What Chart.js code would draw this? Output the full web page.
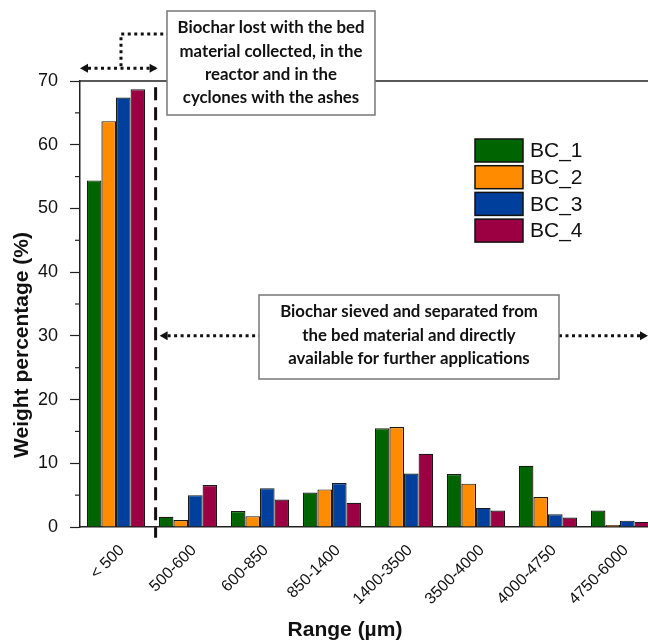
<!DOCTYPE html>
<html>
<head>
<meta charset="utf-8">
<script src="https://cdn.jsdelivr.net/npm/chart.js@4.4.1/dist/chart.umd.min.js"></script>
<style>
html, body { margin: 0; padding: 0; background: #fff; overflow: hidden; width: 648px; height: 643px; }
#wrap { position: absolute; left: 0; top: 0; width: 660px; height: 643px; }
</style>
</head>
<body>
<div id="wrap"><canvas id="chart" width="660" height="643"></canvas></div>
<script>
// data
const ranges = ['< 500', '500-600', '600-850', '850-1400', '1400-3500', '3500-4000', '4000-4750', '4750-6000'];
const bc1 = [54.4, 1.6, 2.5, 5.4, 15.5, 8.3, 9.6, 2.6];
const bc2 = [63.7, 1.1, 1.7, 5.9, 15.7, 6.8, 4.7, 0.3];
const bc3 = [67.4, 5.0, 6.1, 6.9, 8.4, 3.0, 2.0, 1.0];
const bc4 = [68.7, 6.6, 4.3, 3.8, 11.5, 2.6, 1.5, 0.8];
const seriesNames = ['BC_1', 'BC_2', 'BC_3', 'BC_4'];
const seriesColors = ['#006400', '#ff8c00', '#00409c', '#9c0042'];
const yTicks = [0, 10, 20, 30, 40, 50, 60, 70];

const noteTop = ['Biochar lost with the bed', 'material collected, in the', 'reactor and in the', 'cyclones with the ashes'];
const noteMid = ['Biochar sieved and separated from', 'the bed material and directly', 'available for further applications'];

const SANS = 'Arial, "Liberation Sans", sans-serif';
const NOTE_FONT = 'bold 16.8px Lato, "Open Sans", sans-serif';

function arrowHead(ctx, x, y, dir) {
    ctx.beginPath();
    ctx.moveTo(x, y);
    ctx.lineTo(x - dir * 8, y - 4.5);
    ctx.lineTo(x - dir * 8, y + 4.5);
    ctx.closePath();
    ctx.fill();
}

function dotted(ctx, pts) {
    ctx.save();
    ctx.setLineDash([3, 3.5]);
    ctx.lineWidth = 3;
    ctx.strokeStyle = '#111';
    ctx.beginPath();
    ctx.moveTo(pts[0][0], pts[0][1]);
    for (let i = 1; i < pts.length; i++) ctx.lineTo(pts[i][0], pts[i][1]);
    ctx.stroke();
    ctx.restore();
}

function noteBox(ctx, lines, x, y, w, h, first, gap) {
    ctx.save();
    ctx.fillStyle = '#fff';
    ctx.fillRect(x, y, w, h);
    ctx.strokeStyle = '#777';
    ctx.lineWidth = 1.5;
    ctx.strokeRect(x, y, w, h);
    ctx.fillStyle = '#111';
    ctx.font = NOTE_FONT;
    ctx.textAlign = 'center';
    ctx.textBaseline = 'middle';
    lines.forEach((t, i) => ctx.fillText(t, x + w / 2, y + first + i * gap));
    ctx.restore();
}

// frame, minor ticks, titles, legend and the notes
const extras = {
    id: 'extras',
    afterDraw(chart) {
        const ctx = chart.ctx;
        const area = chart.chartArea;
        const xs = chart.scales.x;
        const ys = chart.scales.y;

        ctx.save();
        // top frame line
        ctx.strokeStyle = '#222';
        ctx.lineWidth = 1.5;
        ctx.beginPath();
        ctx.moveTo(area.left, area.top);
        ctx.lineTo(area.right, area.top);
        ctx.stroke();

        // minor ticks
        ctx.lineWidth = 1.2;
        for (let v = 5; v < 70; v += 10) {
            const py = ys.getPixelForValue(v);
            ctx.beginPath();
            ctx.moveTo(area.left - 5, py);
            ctx.lineTo(area.left, py);
            ctx.stroke();
        }

        // axis titles
        ctx.fillStyle = '#111';
        ctx.font = 'bold 21px ' + SANS;
        ctx.textAlign = 'center';
        ctx.textBaseline = 'middle';
        ctx.fillText('Range (\u00b5m)', 345, 630);
        ctx.save();
        ctx.translate(22, 345);
        ctx.rotate(-Math.PI / 2);
        ctx.fillText('Weight percentage (%)', 0, 0);
        ctx.restore();

        // legend
        ctx.font = '21px ' + SANS;
        ctx.textAlign = 'left';
        seriesNames.forEach((name, i) => {
            const ly = 139 + i * 26.7;
            ctx.fillStyle = seriesColors[i];
            ctx.fillRect(475, ly, 48, 23);
            ctx.strokeStyle = '#111';
            ctx.lineWidth = 1.5;
            ctx.strokeRect(475, ly, 48, 23);
            ctx.fillStyle = '#111';
            ctx.fillText(name, 530, ly + 12.5);
        });

        // dashed divider between the first two ranges
        const dx = xs.getPixelForValue(0.55);
        ctx.save();
        ctx.setLineDash([13, 7]);
        ctx.lineWidth = 3;
        ctx.strokeStyle = '#111';
        ctx.beginPath();
        ctx.moveTo(dx, ys.getPixelForValue(69));
        ctx.lineTo(dx, ys.getPixelForValue(-1.7));
        ctx.stroke();
        ctx.restore();

        // top note with its double arrow
        ctx.fillStyle = '#111';
        const ay = ys.getPixelForValue(72);
        dotted(ctx, [[area.left + 8, ay], [dx, ay]]);
        arrowHead(ctx, area.left, ay, -1);
        arrowHead(ctx, dx + 2, ay, 1);
        dotted(ctx, [[121, ay - 2], [121, 34], [167, 34]]);
        noteBox(ctx, noteTop, 167, 11, 208, 104, 17, 23.3);

        // middle note with its arrows
        const my = ys.getPixelForValue(30);
        dotted(ctx, [[dx + 12, my], [259, my]]);
        arrowHead(ctx, dx + 4, my, -1);
        dotted(ctx, [[559, my], [640, my]]);
        ctx.fillStyle = '#111';
        arrowHead(ctx, 648, my, 1);
        noteBox(ctx, noteMid, 259, 295, 300, 84, 17, 23.5);
        ctx.restore();
    }
};

const datasets = [bc1, bc2, bc3, bc4].map((vals, i) => ({
    label: seriesNames[i],
    data: vals,
    backgroundColor: seriesColors[i],
    borderColor: '#1a1a1a',
    borderWidth: 1.2,
    categoryPercentage: 0.81,
    barPercentage: 1.0
}));

new Chart(document.getElementById('chart'), {
    type: 'bar',
    data: { labels: ranges, datasets: datasets },
    options: {
        responsive: false,
        animation: false,
        layout: { padding: { top: 81, right: 4, left: 0, bottom: 0 } },
        plugins: { legend: { display: false }, tooltip: { enabled: false } },
        scales: {
            x: {
                afterFit(scale) { scale.height = 116; },
                grid: { drawOnChartArea: false, drawTicks: false },
                border: { color: '#222', width: 1.5 },
                ticks: {
                    minRotation: 45,
                    maxRotation: 45,
                    padding: 14,
                    labelOffset: 6,
                    color: '#111',
                    font: { family: SANS, size: 16 }
                }
            },
            y: {
                min: 0,
                max: 70,
                afterFit(scale) { scale.width = 80; },
                grid: {
                    drawOnChartArea: false,
                    tickLength: 10,
                    tickWidth: 1.2,
                    tickColor: c => yTicks.includes(c.tick.value) ? '#222' : 'rgba(0,0,0,0)'
                },
                border: { color: '#222', width: 1.5 },
                ticks: {
                    stepSize: 5,
                    padding: 12,
                    color: '#111',
                    font: { family: SANS, size: 18 },
                    callback: v => yTicks.includes(v) ? v : ''
                }
            }
        }
    },
    plugins: [extras]
});
</script>
</body>
</html>
